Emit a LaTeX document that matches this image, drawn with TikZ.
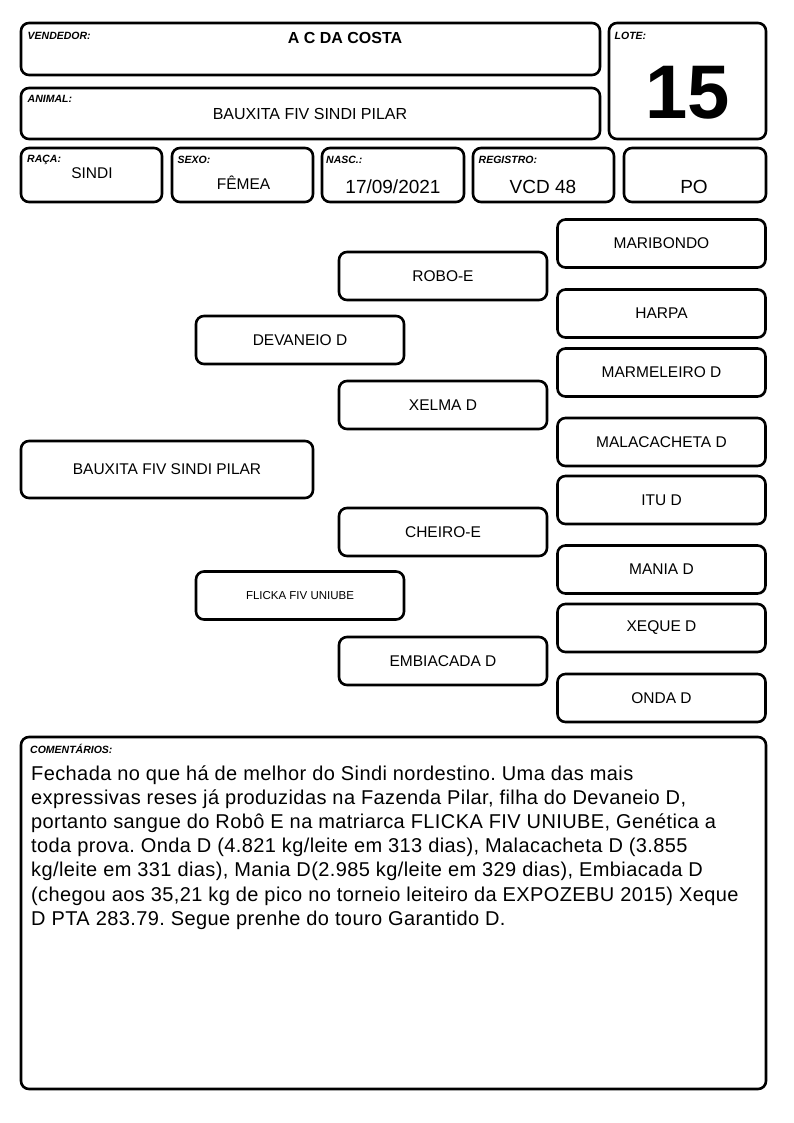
\documentclass[tikz,border=0pt]{standalone}
\usepackage{fontspec}
\setmainfont{Liberation Sans}
\newfontfamily\cmtfont[LetterSpace=2]{Liberation Sans}
\begin{document}
\frenchspacing
\begin{tikzpicture}[x=1pt,y=-1pt,
  box/.style={draw, line width=2.6pt, rounded corners=8pt, inner sep=0pt},
  lab/.style={anchor=north west, inner sep=0pt, font=\fontsize{10.5}{12}\selectfont\bfseries\itshape},
  val/.style={anchor=base, inner sep=0pt, font=\fontsize{15.5}{18}\selectfont},
  bigval/.style={anchor=base, inner sep=0pt, font=\fontsize{19}{22}\selectfont},
  ped/.style={box, minimum width=208pt, minimum height=48pt, font=\fontsize{15.5}{18}\selectfont}
]
\useasboundingbox[fill=white] (0,0) rectangle (794,1123);

% header boxes
\node[box, minimum width=579pt, minimum height=52pt] (vend) at (310.5,49) {};
\node[box, minimum width=157pt, minimum height=116pt] (lote) at (687.5,81) {};
\node[box, minimum width=579pt, minimum height=51pt] (anim) at (310.5,113.5) {};
\node[box, minimum width=141pt, minimum height=54pt] (raca) at (91.5,175) {};
\node[box, minimum width=141pt, minimum height=54pt] (sexo) at (242.5,175) {};
\node[box, minimum width=142pt, minimum height=54pt] (nasc) at (393,175) {};
\node[box, minimum width=141pt, minimum height=54pt] (reg) at (543.5,175) {};
\node[box, minimum width=142pt, minimum height=54pt] (po) at (695,175) {};

\node[lab] (vendl) at (27.5,31.5) {VENDEDOR:};
\node[anchor=base, inner sep=0pt, font=\fontsize{16}{19}\selectfont\bfseries] (vendv) at (345,43.5) {A C DA COSTA};
\node[lab] (lotel) at (614.5,31.5) {LOTE:};
\node[anchor=base, inner sep=0pt, font=\fontsize{76}{80}\selectfont\bfseries] (lotev) at (687.5,118.5) {15};
\node[lab] (animl) at (27.5,95.5) {ANIMAL:};
\node[val, font=\fontsize{16}{19}\selectfont] (animv) at (310,119.5) {BAUXITA FIV SINDI PILAR};
\node[lab] (racal) at (27,154.5) {RAÇA:};
\node[val] (racav) at (92,178.5) {SINDI};
\node[lab] (sexol) at (177.5,156) {SEXO:};
\node[val] (sexov) at (243.5,189.5) {FÊMEA};
\node[lab] (nascl) at (326,156) {NASC.:};
\node[bigval] (nascv) at (393,193.5) {17/09/2021};
\node[lab] (regl) at (478.5,156) {REGISTRO:};
\node[bigval] (regv) at (543,193.5) {VCD 48};
\node[bigval] (pov) at (694,193.5) {PO};

% pedigree
\node[ped] (maribondo) at (661.5,243.5) {MARIBONDO};
\node[ped] (robo) at (443,276) {ROBO-E};
\node[ped] (harpa) at (661.5,313.5) {HARPA};
\node[ped] (devaneio) at (300,340) {DEVANEIO D};
\node[ped] (marmeleiro) at (661.5,372.5) {MARMELEIRO D};
\node[ped] (xelma) at (443,405) {XELMA D};
\node[ped] (malacacheta) at (661.5,442) {MALACACHETA D};
\node[box, minimum width=292pt, minimum height=57pt, font=\fontsize{15.5}{18}\selectfont] (bauxita) at (167,469.5) {BAUXITA FIV SINDI PILAR};
\node[ped] (itu) at (661.5,500) {ITU D};
\node[ped] (cheiro) at (443,532) {CHEIRO-E};
\node[ped] (mania) at (661.5,569.5) {MANIA D};
\node[ped, font=\fontsize{11.5}{13}\selectfont] (flicka) at (300,595.5) {FLICKA FIV UNIUBE};
\node[ped] (xeque) at (661.5,628) {XEQUE D};
\node[ped] (embiacada) at (443,661) {EMBIACADA D};
\node[ped] (onda) at (661.5,698) {ONDA D};

% comments
\node[box, minimum width=745pt, minimum height=352pt] (coment) at (393.5,913) {};
\node[lab] (comentl) at (30,744.5) {COMENTÁRIOS:};
\node[anchor=north west, inner sep=0pt, align=left, font=\cmtfont\fontsize{20}{24.2}\selectfont] (comentv) at (31,763) {\strut Fechada no que há de melhor do Sindi nordestino. Uma das mais\\
expressivas reses já produzidas na Fazenda Pilar, filha do Devaneio D,\\
portanto sangue do Robô E na matriarca FLICKA FIV UNIUBE, Genética a\\
toda prova. Onda D (4.821 kg/leite em 313 dias), Malacacheta D (3.855\\
kg/leite em 331 dias), Mania D(2.985 kg/leite em 329 dias), Embiacada D\\
(chegou aos 35,21 kg de pico no torneio leiteiro da EXPOZEBU 2015) Xeque\\
D PTA 283.79. Segue prenhe do touro Garantido D.};
\end{tikzpicture}
\end{document}
